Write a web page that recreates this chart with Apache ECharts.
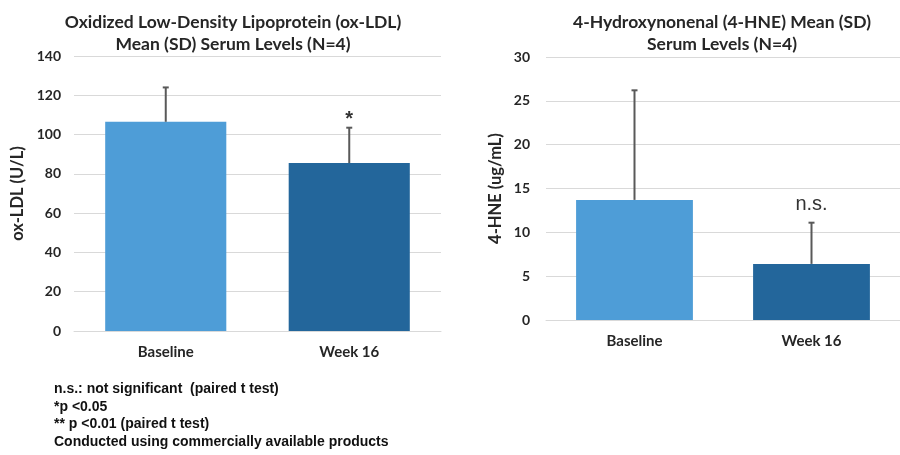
<!DOCTYPE html>
<html><head><meta charset="utf-8">
<script src="https://cdn.jsdelivr.net/npm/echarts@6/dist/echarts.min.js"></script>
<style>html,body{margin:0;padding:0;background:#fff}#c{width:900px;height:455px}</style>
</head><body><div id="c"></div>
<script>
const categories = ['Baseline', 'Week 16'];
const ldlMean = [106.5, 85.5];
const ldlSD = [17.5, 18];
const hneMean = [13.7, 6.4];
const hneSD = [12.5, 4.7];
const ldlTicks = {min: 0, max: 140, interval: 20};
const hneTicks = {min: 0, max: 30, interval: 5};
const barColors = ['#4e9dd7', '#23669b'];
const ldlMarks = ['', '*'];
const hneMarks = ['', 'n.s.'];
const footnotes = ['n.s.: not significant  (paired t test)', '*p <0.05', '** p <0.01 (paired t test)', 'Conducted using commercially available products'];

const chart = echarts.init(document.getElementById('c'), null, {renderer: 'canvas'});
const txt = '#262626';
function errSeries(idx, mean, sd, marks, markFont, markOffset) {
  return {
    type: 'custom', xAxisIndex: idx, yAxisIndex: idx, z: 5,
    data: mean.map((m, i) => [i, m, m + sd[i]]),
    renderItem: function (params, api) {
      const i = api.value(0);
      const p0 = api.coord([i, api.value(1)]);
      const p1 = api.coord([i, api.value(2)]);
      const children = [
        {type: 'line', shape: {x1: p0[0], y1: p0[1], x2: p1[0], y2: p1[1]}, style: {stroke: '#595959', lineWidth: 2}},
        {type: 'line', shape: {x1: p1[0] - 3, y1: p1[1], x2: p1[0] + 3, y2: p1[1]}, style: {stroke: '#595959', lineWidth: 2}}
      ];
      if (marks[i]) {
        children.push({type: 'text', x: p1[0], y: p1[1] - markOffset, style: {text: marks[i], font: markFont, fill: '#333', align: 'center', verticalAlign: 'bottom'}});
      }
      return {type: 'group', children: children};
    }
  };
}
const tickStyle = {color: txt, fontFamily: 'Lato', fontWeight: 'bold', fontSize: 14};
const catStyle = {color: txt, fontFamily: 'Lato', fontWeight: 'bold', fontSize: 15};
function yAx(idx, t, name, gap, margin) {
  return {
    type: 'value', gridIndex: idx, min: t.min, max: t.max, interval: t.interval,
    name: name, nameLocation: 'middle', nameGap: gap, nameRotate: 90,
    nameTextStyle: {color: txt, fontFamily: 'Lato', fontWeight: 'bold', fontSize: 16.5},
    axisLabel: Object.assign({margin: margin}, tickStyle),
    axisLine: {show: false}, axisTick: {show: false},
    splitLine: {lineStyle: {color: '#d9d9d9', width: 1}}
  };
}
function xAx(idx) {
  return {
    type: 'category', gridIndex: idx, data: categories,
    axisLabel: Object.assign({margin: 14}, catStyle),
    axisLine: {lineStyle: {color: '#d9d9d9'}}, axisTick: {show: false}
  };
}
function bars(idx, vals) {
  return {
    type: 'bar', xAxisIndex: idx, yAxisIndex: idx, barWidth: '66%',
    data: vals.map((v, i) => ({value: v, itemStyle: {color: barColors[i]}}))
  };
}
const titleStyle = {color: txt, fontFamily: 'Lato', fontWeight: 'bold', fontSize: 17.5, lineHeight: 22};
chart.setOption({
  animation: false,
  title: [
    {text: 'Oxidized Low-Density Lipoprotein (ox-LDL)\nMean (SD) Serum Levels (N=4)', left: 228, top: 6, textAlign: 'center', textStyle: titleStyle},
    {text: '4-Hydroxynonenal (4-HNE) Mean (SD)\nSerum Levels (N=4)', left: 717, top: 6, textAlign: 'center', textStyle: titleStyle}
  ],
  grid: [
    {left: 74, width: 367, top: 56, height: 275},
    {left: 546, width: 364, top: 57, height: 263}
  ],
  xAxis: [xAx(0), xAx(1)],
  yAxis: [yAx(0, ldlTicks, 'ox-LDL (U/L)', 48, 13), yAx(1, hneTicks, '4-HNE (ug/mL)', 42, 16)],
  series: [
    bars(0, ldlMean), bars(1, hneMean),
    errSeries(0, ldlMean, ldlSD, ldlMarks, 'bold 20px "Liberation Sans"', -2),
    errSeries(1, hneMean, hneSD, hneMarks, '20px "Liberation Sans"', 8)
  ],
  graphic: [{
    type: 'text', left: 54, top: 380.5,
    style: {text: footnotes.join('\n'), font: 'bold 14px "Liberation Sans"', fill: '#111', lineHeight: 17.6}
  }]
});
</script></body></html>
